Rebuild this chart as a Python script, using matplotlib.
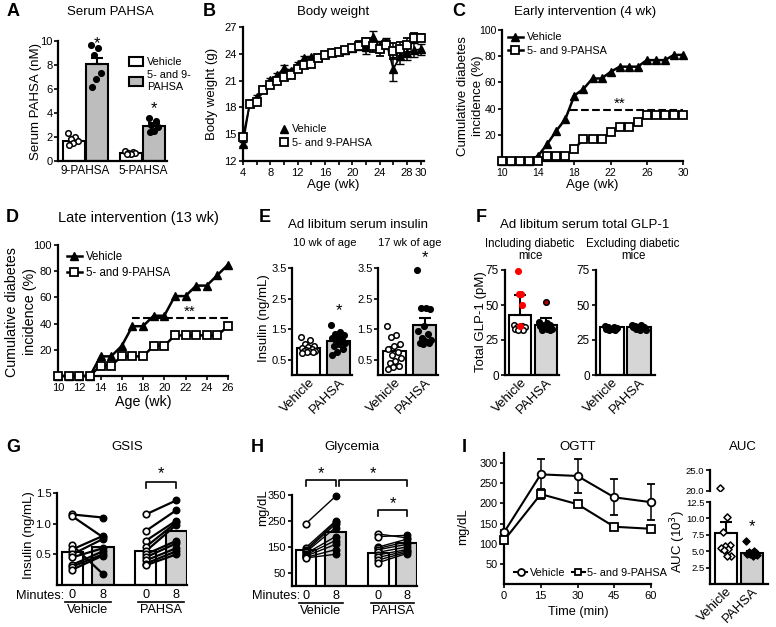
import numpy as np
import matplotlib.pyplot as plt
from matplotlib.lines import Line2D

plt.rcParams['font.family'] = ['Liberation Sans', 'DejaVu Sans']
plt.rcParams['font.size'] = 8
plt.rcParams['axes.linewidth'] = 1.6
plt.rcParams['xtick.major.width'] = 1.2
plt.rcParams['ytick.major.width'] = 1.2
plt.rcParams['xtick.major.size'] = 3
plt.rcParams['ytick.major.size'] = 3
plt.rcParams['xtick.major.pad'] = 2
plt.rcParams['ytick.major.pad'] = 1.5
plt.rcParams['xtick.labelsize'] = 8
plt.rcParams['ytick.labelsize'] = 8

W, H = 776, 627
fig = plt.figure(figsize=(W / 100, H / 100), dpi=100)

# ---------------- data ----------------
# A  serum PAHSA
a_groups = ['9-PAHSA', '5-PAHSA']
a_veh_mean = [1.7, 0.7]
a_veh_err = [0.15, 0.05]
a_pah_mean = [8.1, 2.9]
a_pah_err = [0.5, 0.3]
a_veh_pts = [[2.3, 2.0, 1.8, 1.7, 1.5, 1.35], [0.8, 0.75, 0.7, 0.65, 0.6, 0.58]]
a_pah_pts = [[9.7, 9.4, 8.8, 7.3, 6.8, 6.2], [3.6, 3.3, 3.0, 2.8, 2.5, 2.4]]

# B  body weight
b_weeks = list(range(4, 31))
b_veh = [13.9, 18.5, 19.2, 20.1, 21.1, 21.6, 22.4, 22.1, 22.9, 23.5, 23.6, 23.6, 24.0,
         24.2, 24.3, 24.4, 24.6, 24.9, 24.8, 25.9, 24.8, 25.2, 22.3, 23.7, 24.1, 24.4, 24.5]
b_veh_err = [0.2, 0.2, 0.2, 0.2, 0.2, 0.2, 0.4, 0.2, 0.2, 0.2, 0.2, 0.2, 0.2,
             0.2, 0.2, 0.2, 0.2, 0.4, 0.8, 0.6, 0.6, 0.6, 1.3, 0.8, 0.8, 0.8, 0.6]
b_pah = [14.7, 18.4, 18.6, 20.0, 20.5, 21.0, 21.4, 21.6, 22.3, 22.7, 22.9, 23.5, 23.9,
         24.1, 24.2, 24.4, 24.6, 24.9, 25.3, 24.9, 24.5, 25.0, 24.3, 24.5, 25.0, 25.8, 25.8]
b_pah_err = [0.2, 0.2, 0.2, 0.2, 0.2, 0.2, 0.2, 0.2, 0.2, 0.2, 0.2, 0.2, 0.2,
             0.2, 0.2, 0.2, 0.2, 0.5, 0.5, 0.7, 0.8, 0.5, 0.9, 0.8, 0.8, 0.5, 0.4]

# C  early intervention
c_weeks = list(range(10, 31))
c_veh = [0, 0, 0, 0, 4, 13, 23, 32, 50, 55, 63, 63, 68, 72, 72, 72, 77, 77, 77, 81, 81]
c_pah = [0, 0, 0, 0, 0, 4, 4, 4, 9, 17, 17, 17, 22, 26, 26, 30, 35, 35, 35, 35, 35]

# D  late intervention
d_weeks = list(range(10, 27))
d_veh = [0, 0, 0, 0, 15, 15, 23, 38, 38, 46, 46, 61, 61, 69, 69, 77, 85]
d_pah = [0, 0, 0, 0, 8, 8, 15, 15, 15, 23, 23, 31, 31, 31, 31, 31, 38]

# E  ad libitum insulin
e_cats = ['Vehicle', 'PAHSA']
e10_mean = [0.87, 1.1]
e10_err = [0.04, 0.07]
e10_veh = [1.25, 1.15, 1.0, 0.95, 0.9, 0.88, 0.85, 0.82, 0.8, 0.8, 0.78, 0.75, 0.75, 0.72]
e10_pah = [1.65, 1.4, 1.35, 1.3, 1.25, 1.2, 1.15, 1.1, 1.05, 1.0, 0.95, 0.85, 0.75, 0.65]
e17_mean = [0.8, 1.65]
e17_err = [0.12, 0.2]
e17_veh = [1.6, 1.3, 1.25, 1.0, 0.95, 0.85, 0.75, 0.65, 0.55, 0.45, 0.4, 0.3, 0.25, 0.2]
e17_pah = [3.45, 2.2, 2.2, 2.15, 1.6, 1.45, 1.35, 1.2, 1.15, 1.1, 1.05, 1.05, 1.0]

# F  total GLP-1
f_inc_mean = [43, 36]
f_inc_err = [14, 5]
f_inc_veh = [36, 35, 34, 34, 33, 33, 32, 32]
f_inc_veh_diab = [74, 58, 58, 50, 35]
f_inc_pah = [38, 37, 36, 36, 35, 35, 34, 34, 33, 33, 32, 32]
f_inc_pah_diab = [52]
f_exc_mean = [34, 34]
f_exc_veh = [35, 34.5, 34, 33.5, 33, 33, 32.5, 32]
f_exc_pah = [36, 35.5, 35, 34.5, 34, 34, 33.5, 33, 32.5, 32]

# G  GSIS (paired 0 -> 8 min)
g_bars = [0.53, 0.62, 0.55, 0.88]
g_veh0 = [1.15, 1.12, 0.65, 0.58, 0.5, 0.45, 0.33, 0.30, 0.25]
g_veh8 = [1.1, 0.78, 0.18, 0.8, 0.75, 0.6, 0.55, 0.5, 0.48]
g_pah0 = [1.15, 0.88, 0.72, 0.62, 0.55, 0.5, 0.45, 0.4, 0.35, 0.32]
g_pah8 = [1.38, 1.22, 1.05, 1.02, 0.98, 0.72, 0.68, 0.6, 0.55, 0.5]

# H  glycemia
h_bars = [140, 208, 128, 165]
h_veh0 = [240, 148, 140, 135, 130, 125, 120, 115, 110, 108]
h_veh8 = [345, 250, 245, 238, 225, 190, 175, 160, 140, 122]
h_pah0 = [200, 190, 150, 145, 140, 130, 120, 110, 100, 90]
h_pah8 = [185, 195, 180, 170, 160, 150, 140, 135, 130, 125]

# I  OGTT + AUC
i_time = [0, 15, 30, 45, 60]
i_veh = [128, 272, 268, 215, 203]
i_veh_err = [5, 38, 42, 45, 44]
i_pah = [108, 223, 198, 142, 137]
i_pah_err = [3, 12, 4, 4, 4]
auc_mean = [7.8, 4.8]
auc_err = [1.7, 0.25]
auc_veh = [20.8, 10.2, 8.0, 6.0, 5.8, 5.5, 5.3, 5.2, 4.3, 4.2]
auc_pah = [6.5, 5.0, 4.9, 4.8, 4.7, 4.6, 4.5, 4.5, 4.4, 4.3]

GREY_A = '#bdbdbd'
GREY = '#d0d0d0'
TSZ = 9.5   # titles
LSZ = 9.5   # axis labels
LEG = 7.8   # legends


# ---------------- helpers ----------------
def add_ax(l, t, r, b):
    ax = fig.add_axes([l / W, 1 - b / H, (r - l) / W, (b - t) / H])
    ax.spines[['top', 'right']].set_visible(False)
    return ax


def ftext(x, y, s, **kw):
    kw.setdefault('ha', 'center')
    kw.setdefault('va', 'center')
    fig.text(x / W, 1 - y / H, s, **kw)


def letter(x, y, s):
    ftext(x, y, s, fontsize=13, fontweight='bold')


def ylab(x, y, s, size=LSZ):
    ftext(x, y, s, rotation=90, fontsize=size)


def spread(n, w):
    return ((np.arange(n) * 0.618) % 1 - 0.5) * 2 * w


def dots(ax, x0, vals, w, face, edge='black', s=16, z=4):
    vals = np.asarray(vals, float)
    ax.scatter(x0 + spread(len(vals), w), vals, s=s, facecolor=face,
               edgecolor=edge, linewidth=1.1, zorder=z, clip_on=False)


def bar(ax, x, h, w, color, err=None):
    ax.bar(x, h, w, color=color, edgecolor='black', linewidth=1.5, zorder=2)
    if err is not None:
        ax.errorbar(x, h, yerr=[[0], [err]], fmt='none', ecolor='black',
                    elinewidth=1.5, capsize=4, capthick=1.5, zorder=3)


def rot_labels(ax, pos, labels, size=9.5):
    ax.set_xticks(pos, labels, rotation=45, ha='right', rotation_mode='anchor',
                  fontsize=size)
    ax.tick_params(axis='x', length=0, pad=1)


tri = Line2D([], [], color='black', marker='^', ms=6, lw=1.8)
sqr = Line2D([], [], color='black', marker='s', mfc='white', ms=6, mew=1.3, lw=1.8)

# ---------------- A ----------------
ax = add_ax(58, 41, 167, 161)
for i in range(2):
    bar(ax, i - 0.2, a_veh_mean[i], 0.38, 'white', a_veh_err[i])
    bar(ax, i + 0.2, a_pah_mean[i], 0.38, GREY_A, a_pah_err[i])
    dots(ax, i - 0.2, a_veh_pts[i], 0.1, 'white')
    dots(ax, i + 0.2, a_pah_pts[i], 0.1, 'black')
    ax.text(i + 0.2, a_pah_mean[i] + a_pah_err[i] + 1.2, '*', ha='center',
            va='center', fontsize=12)
ax.set_xlim(-0.47, 1.42)
ax.set_ylim(0, 10)
ax.set_yticks([0, 2, 4, 6, 8, 10])
ax.tick_params(axis='y', pad=1)
ax.set_xticks([0, 1], a_groups, fontsize=8.5)
ax.tick_params(axis='x', length=0, pad=3)
h1 = plt.Rectangle((0, 0), 1, 1, facecolor='white', edgecolor='black', linewidth=1.5)
h2 = plt.Rectangle((0, 0), 1, 1, facecolor=GREY_A, edgecolor='black', linewidth=1.5)
fig.legend([h1, h2], ['Vehicle', '5- and 9-\nPAHSA'], loc='upper left',
           bbox_to_anchor=(119 / W, 1 - 47 / H), frameon=False, fontsize=LEG,
           handlelength=1.3, handleheight=0.9, handletextpad=0.4, labelspacing=0.3)
ftext(110, 12, 'Serum PAHSA', fontsize=TSZ)
ylab(36, 101, 'Serum PAHSA (nM)')
letter(13, 12, 'A')

# ---------------- B ----------------
ax = add_ax(243, 27, 424, 161)
ax.errorbar(b_weeks, b_veh, yerr=b_veh_err, fmt='-^', color='black', ms=6,
            lw=1.3, capsize=3, elinewidth=1.1, clip_on=False, zorder=3)
ax.errorbar(b_weeks, b_pah, yerr=b_pah_err, fmt='-s', color='black', mfc='white',
            ms=6, mew=1.3, lw=1.3, capsize=3, elinewidth=1.1, clip_on=False, zorder=4)
ax.set_xlim(4, 30.5)
ax.set_ylim(12, 27)
ax.set_yticks([12, 15, 18, 21, 24, 27])
xt = list(range(4, 31, 2))
ax.set_xticks(xt, [str(v) if (v % 4 == 0 or v == 30) else '' for v in xt])
bt = Line2D([], [], color='black', marker='^', ms=6, lw=0)
bs = Line2D([], [], color='black', marker='s', mfc='white', ms=6, mew=1.3, lw=0)
fig.legend([bt, bs], ['Vehicle', '5- and 9-PAHSA'], loc='upper left',
           bbox_to_anchor=(274 / W, 1 - 119 / H), frameon=False, fontsize=LEG,
           handlelength=0.8, handletextpad=0.4, labelspacing=0.35, borderpad=0)
ftext(333, 12, 'Body weight', fontsize=TSZ)
ylab(212, 94, 'Body weight (g)')
ftext(333, 185, 'Age (wk)', fontsize=LSZ)
letter(209, 12, 'B')

# ---------------- C ----------------
ax = add_ax(502, 30, 683, 161)
ax.plot(c_weeks, c_veh, '-^', color='black', ms=6, lw=1.8, clip_on=False, zorder=3)
ax.plot(c_weeks, c_pah, '-s', color='black', mfc='white', ms=6, mew=1.3, lw=1.8,
        clip_on=False, zorder=4)
ax.plot([17.5, 30], [39, 39], '--', color='black', lw=1.5)
ax.text(23, 44, '**', ha='center', va='center', fontsize=11)
ax.set_xlim(10, 30)
ax.set_ylim(0, 100)
ax.set_yticks([20, 40, 60, 80, 100])
ax.set_xticks([10, 14, 18, 22, 26, 30])
ax.tick_params(labelsize=7.5)
ax.tick_params(axis='y', pad=1)
fig.legend([tri, sqr], ['Vehicle', '5- and 9-PAHSA'], loc='upper left',
           bbox_to_anchor=(503 / W, 1 - 27 / H), frameon=False, fontsize=LEG,
           handlelength=1.3, handletextpad=0.4, labelspacing=0.3, borderpad=0)
ftext(585, 12, 'Early intervention (4 wk)', fontsize=TSZ)
ylab(463, 96, 'Cumulative diabetes')
ylab(478, 96, 'incidence (%)')
ftext(592, 185, 'Age (wk)', fontsize=LSZ)
letter(459, 12, 'C')

# ---------------- D ----------------
ax = add_ax(58, 245, 228, 376)
ax.plot(d_weeks, d_veh, '-^', color='black', ms=6, lw=1.8, clip_on=False, zorder=3)
ax.plot(d_weeks, d_pah, '-s', color='black', mfc='white', ms=6, mew=1.3, lw=1.8,
        clip_on=False, zorder=4)
ax.plot([17, 26], [44, 44], '--', color='black', lw=1.5)
ax.text(22.4, 49, '**', ha='center', va='center', fontsize=11)
ax.set_xlim(10, 26)
ax.set_ylim(0, 100)
ax.set_yticks([20, 40, 60, 80, 100])
ax.set_xticks(list(range(10, 27, 2)))
fig.legend([tri, sqr], ['Vehicle', '5- and 9-PAHSA'], loc='upper left',
           bbox_to_anchor=(61 / W, 1 - 245 / H), frameon=False, fontsize=8.3,
           handlelength=1.3, handletextpad=0.4, labelspacing=0.35, borderpad=0)
ftext(138, 218, 'Late intervention (13 wk)', fontsize=10.5)
ylab(12, 312, 'Cumulative diabetes', size=10.3)
ylab(30, 312, 'incidence (%)', size=10.3)
ftext(143, 402, 'Age (wk)', fontsize=10.3)
letter(12, 218, 'D')

# ---------------- E ----------------
E_GREY = '#c8c8c8'
for (l, r, means, errs, veh, pah, star) in [
        (292, 352, e10_mean, e10_err, e10_veh, e10_pah, 2.1),
        (378, 438, e17_mean, e17_err, e17_veh, e17_pah, 3.85)]:
    ax = add_ax(l, 268, r, 375)
    bar(ax, 0, means[0], 0.75, 'white', errs[0])
    bar(ax, 1, means[1], 0.75, E_GREY, errs[1])
    dots(ax, 0, veh, 0.25, 'white')
    dots(ax, 1, pah, 0.25, 'black')
    ax.text(1, star, '*', ha='center', va='center', fontsize=12, clip_on=False)
    ax.set_xlim(-0.55, 1.45)
    ax.set_ylim(0, 3.5)
    ax.set_yticks([0.5, 1.5, 2.5, 3.5])
    ax.tick_params(axis='y', pad=1)
    rot_labels(ax, [0, 1], e_cats)
ftext(358, 225, 'Ad libitum serum insulin', fontsize=TSZ)
ftext(325, 243, '10 wk of age', fontsize=8)
ftext(410, 243, '17 wk of age', fontsize=8)
ylab(264, 318, 'Insulin (ng/mL)')
letter(265, 218, 'E')

# ---------------- F ----------------
F_GREY = '#d6d6d6'
ax = add_ax(505, 270, 559, 375)
bar(ax, 0, f_inc_mean[0], 1.0, 'white', f_inc_err[0])
bar(ax, 1.15, f_inc_mean[1], 1.0, F_GREY, f_inc_err[1])
dots(ax, 0, f_inc_veh, 0.3, 'white')
dots(ax, 0, f_inc_veh_diab, 0.12, 'red', edge='red', z=5)
dots(ax, 1.15, f_inc_pah, 0.3, 'black')
dots(ax, 1.15, f_inc_pah_diab, 0.0, '#b00000', z=5)
ax.set_xlim(-0.7, 1.75)
ax.set_ylim(0, 75)
ax.set_yticks([0, 25, 50, 75])
ax.tick_params(axis='y', labelsize=8.5)
rot_labels(ax, [0, 1.15], e_cats)

ax = add_ax(596, 270, 655, 375)
bar(ax, 0, f_exc_mean[0], 1.0, 'white', 0.5)
bar(ax, 1.1, f_exc_mean[1], 1.0, F_GREY, 0.5)
dots(ax, 0, f_exc_veh, 0.3, 'black')
dots(ax, 1.1, f_exc_pah, 0.3, 'black')
ax.set_xlim(-0.65, 1.75)
ax.set_ylim(0, 75)
ax.set_yticks([0, 25, 50, 75])
ax.tick_params(axis='y', labelsize=8.5)
rot_labels(ax, [0, 1.1], e_cats)
ftext(585, 225, 'Ad libitum serum total GLP-1', fontsize=TSZ)
ftext(530, 250, 'Including diabetic\nmice', fontsize=8.3, linespacing=1.05)
ftext(633, 250, 'Excluding diabetic\nmice', fontsize=8.3, linespacing=1.05)
ylab(481, 322, 'Total GLP-1 (pM)')
letter(481, 218, 'F')


# ---------------- G / H ----------------
def paired(ax, xs, bars, pairs, lw):
    for x, h, c in zip(xs, bars, ['white', GREY, 'white', GREY]):
        ax.bar(x, h, 0.7, color=c, edgecolor='black', linewidth=1.5, zorder=1)
    for (xa, xb), (v0, v8) in pairs:
        for a, b in zip(v0, v8):
            ax.plot([xa, xb], [a, b], '-', color='black', lw=lw, zorder=3)
        ax.scatter([xa] * len(v0), v0, s=22, facecolor='white', edgecolor='black',
                   linewidth=1.2, zorder=4, clip_on=False)
        ax.scatter([xb] * len(v8), v8, s=22, facecolor='black', edgecolor='black',
                   zorder=4, clip_on=False)


def under(ax, x0, x1, name, ypos):
    ax.plot([x0 - 0.25, x1 + 0.25], [ypos, ypos], color='black', lw=1.2,
            transform=ax.get_xaxis_transform(), clip_on=False)
    ax.text((x0 + x1) / 2, ypos - 0.02, name, ha='center', va='top', fontsize=9.2,
            transform=ax.get_xaxis_transform())


def bracket(ax, x0, x1, y, dy, sy):
    ax.plot([x0, x0, x1, x1], [y - dy, y, y, y - dy], color='black', lw=1.2,
            clip_on=False)
    ax.text((x0 + x1) / 2, sy, '*', ha='center', va='center', fontsize=12,
            clip_on=False)


gx = [0, 1, 2.4, 3.4]
ax = add_ax(57, 493, 187, 585)
paired(ax, gx, g_bars, [((0, 1), (g_veh0, g_veh8)), ((2.4, 3.4), (g_pah0, g_pah8))], 1.6)
ax.set_xlim(-0.5, 3.75)
ax.set_ylim(0, 1.5)
ax.set_yticks([0.5, 1.0, 1.5])
ax.tick_params(axis='y', labelsize=8.2, pad=1)
ax.set_xticks(gx, ['0', '8', '0', '8'], fontsize=9.2)
ax.tick_params(axis='x', length=0, pad=3)
bracket(ax, 2.4, 3.4, 1.68, 0.1, 1.81)
under(ax, 0, 1, 'Vehicle', -0.19)
under(ax, 2.4, 3.4, 'PAHSA', -0.19)
ftext(64, 596, 'Minutes:', fontsize=9.2, ha='right')
ftext(127, 447, 'GSIS', fontsize=TSZ)
ylab(29, 535, 'Insulin (ng/mL)')
letter(13, 447, 'G')

hx = [0, 1, 2.45, 3.4]
ax = add_ax(292, 495, 417, 586)
paired(ax, hx, h_bars, [((0, 1), (h_veh0, h_veh8)), ((2.45, 3.4), (h_pah0, h_pah8))], 1.0)
ax.set_xlim(-0.47, 3.75)
ax.set_ylim(0, 350)
ax.set_yticks([50, 150, 250, 350])
ax.set_xticks(hx, ['0', '8', '0', '8'], fontsize=9.2)
ax.tick_params(axis='x', length=0, pad=3)
bracket(ax, 0, 1, 408, 22, 432)
bracket(ax, 1.12, 3.4, 408, 22, 432)
bracket(ax, 2.45, 3.4, 292, 22, 316)
under(ax, 0, 1, 'Vehicle', -0.19)
under(ax, 2.45, 3.4, 'PAHSA', -0.19)
ftext(300, 596, 'Minutes:', fontsize=9.2, ha='right')
ftext(352, 447, 'Glycemia', fontsize=TSZ)
ylab(263, 508, 'mg/dL')
letter(257, 447, 'H')

# ---------------- I ----------------
ax = add_ax(504, 453, 651, 584)
ax.errorbar(i_time, i_veh, yerr=i_veh_err, fmt='-o', color='black', mfc='white',
            ms=5.5, mew=1.3, lw=1.5, capsize=3, elinewidth=1.1, clip_on=False, zorder=3)
ax.errorbar(i_time, i_pah, yerr=i_pah_err, fmt='-s', color='black', mfc='white',
            ms=5.5, mew=1.3, lw=1.5, capsize=3, elinewidth=1.1, clip_on=False, zorder=4)
ax.set_xlim(0, 60)
ax.set_ylim(0, 325)
ax.set_yticks([50, 100, 150, 200, 250, 300])
ax.set_xticks(i_time)
ax.tick_params(axis='y', labelsize=7.8)
ic = Line2D([], [], color='black', marker='o', mfc='white', ms=5, mew=1.3, lw=1.5)
isq = Line2D([], [], color='black', marker='s', mfc='white', ms=5, mew=1.3, lw=1.5)
fig.legend([ic, isq], ['Vehicle', '5- and 9-PAHSA'], loc='center left',
           bbox_to_anchor=(509 / W, 1 - 573 / H), ncol=2, frameon=False,
           fontsize=LEG, handlelength=1.2, handletextpad=0.2, columnspacing=0.6,
           borderpad=0)
ftext(578, 447, 'OGTT', fontsize=TSZ)
ftext(578, 612, 'Time (min)', fontsize=9.2)
ylab(463, 527, 'mg/dL')
letter(464, 447, 'I')

ax_lo = add_ax(710, 502, 768, 584)
ax_hi = add_ax(710, 470, 768, 491)
for a in (ax_lo, ax_hi):
    a.bar(0, auc_mean[0], 0.82, color='white', edgecolor='black', linewidth=1.5, zorder=1)
    a.bar(1, auc_mean[1], 0.82, color=GREY, edgecolor='black', linewidth=1.5, zorder=1)
    a.errorbar([0, 1], auc_mean, yerr=[[0, 0], auc_err], fmt='none', ecolor='black',
               elinewidth=1.5, capsize=4, capthick=1.5, zorder=2)
    a.scatter(spread(len(auc_veh), 0.22), auc_veh, marker='D', s=13,
              facecolor='white', edgecolor='black', linewidth=1.1, zorder=4)
    a.scatter(1 + spread(len(auc_pah), 0.22), auc_pah, marker='D', s=13,
              facecolor='black', edgecolor='black', zorder=4)
    a.set_xlim(-0.6, 1.6)
    a.tick_params(axis='y', labelsize=6.8, pad=1)
ax_lo.set_ylim(0, 12.5)
ax_lo.set_yticks([2.5, 5.0, 7.5, 10.0, 12.5])
ax_lo.set_yticklabels(['2.5', '5.0', '7.5', '10.0', '12.5'])
ax_lo.text(1, 8.7, '*', ha='center', va='center', fontsize=12)
rot_labels(ax_lo, [0, 1], e_cats)
ax_hi.set_ylim(20, 25)
ax_hi.set_yticks([20, 25], ['20.0', '25.0'])
ax_hi.spines['bottom'].set_visible(False)
ax_hi.set_xticks([])
ftext(743, 447, 'AUC', fontsize=TSZ)
ylab(678, 542, 'AUC (10$^3$)')

fig.savefig('out.png', dpi=100)
